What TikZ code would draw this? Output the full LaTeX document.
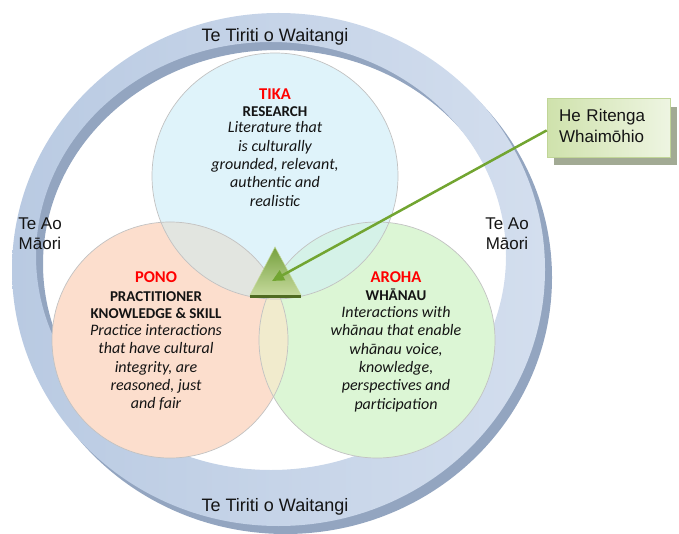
\documentclass[tikz,border=0pt]{standalone}
\usepackage{fontspec}
\setmainfont{Carlito}
\newfontfamily\arialf{Liberation Sans}
\usetikzlibrary{arrows.meta,shadows}
\definecolor{ringlightA}{HTML}{B9CAE2}
\definecolor{ringlightB}{HTML}{D3DEEE}
\definecolor{ringdark}{HTML}{93A5C0}
\definecolor{topc}{HTML}{DFF3FA}
\definecolor{leftc}{HTML}{FCDECD}
\definecolor{rightc}{HTML}{DCF6D5}
\definecolor{tlc}{HTML}{E2E5E0}
\definecolor{trc}{HTML}{D5F2E8}
\definecolor{lrc}{HTML}{F1EBCD}
\definecolor{edgec}{HTML}{C2C2C2}
\definecolor{arrowg}{HTML}{72A531}
\definecolor{triTop}{HTML}{76A13E}
\definecolor{triBot}{HTML}{C5D99C}
\definecolor{triBase}{HTML}{4F6B22}
\definecolor{boxA}{HTML}{CFE2AC}
\definecolor{boxB}{HTML}{EEF5E2}
\definecolor{boxEdge}{HTML}{C0D597}
\definecolor{shadowc}{HTML}{A2AA94}
\definecolor{txt}{HTML}{141414}
\tikzset{
  ringlabel/.style={font=\arialf\fontsize{18}{20}\selectfont, text=txt, inner sep=0pt, anchor=base},
  aolabel/.style={font=\arialf\fontsize{17}{19}\selectfont, text=txt, inner sep=0pt, anchor=base},
  keyword/.style={font=\bfseries\fontsize{16.5}{18}\selectfont, text=red, inner sep=0pt, anchor=base},
  headline/.style={font=\bfseries\fontsize{15}{18}\selectfont, text=txt, inner sep=0pt, anchor=base},
  bodyline/.style={font=\itshape\fontsize{16}{18}\selectfont, text=txt, inner sep=0pt, anchor=base},
  calloutbox/.style={rectangle, draw=boxEdge, line width=0.8pt, left color=boxA, right color=boxB,
    minimum width=123.3pt, minimum height=58.4pt, text width=99.3pt, inner xsep=12pt, inner ysep=10.1pt,
    align=left, anchor=north west, font=\arialf\fontsize{17}{21}\selectfont, text=txt,
    drop shadow={shadow xshift=7pt, shadow yshift=-8pt, fill=shadowc, opacity=1}},
  circedge/.style={draw=edgec, line width=0.7pt},
  pointer/.style={draw=arrowg, line width=2.5pt, -{Triangle[length=12pt,width=11pt]}}
}
\begin{document}
\begin{tikzpicture}[x=1pt,y=-1pt]
\useasboundingbox (0,0) rectangle (679,534);
% ring (3D effect: darker copy shifted down-right)
\fill[ringdark, even odd rule] (285.5,277.5) ellipse [x radius=266.5pt, y radius=256.5pt]
  (278,264) ellipse [x radius=235pt, y radius=214pt];
\shade[left color=ringlightA, right color=ringlightB, even odd rule] (278.5,269.5) ellipse [x radius=266.5pt, y radius=256.5pt]
  (271,256) ellipse [x radius=235pt, y radius=214pt];
% circles
\fill[topc] (275,176) circle [radius=123pt];
\fill[leftc] (170,340) circle [radius=118pt];
\fill[rightc] (377,340) circle [radius=118pt];
\begin{scope}
  \clip (275,176) circle [radius=123pt];
  \fill[tlc] (170,340) circle [radius=118pt];
  \fill[trc] (377,340) circle [radius=118pt];
\end{scope}
\begin{scope}
  \clip (170,340) circle [radius=118pt];
  \fill[lrc] (377,340) circle [radius=118pt];
\end{scope}
\draw[circedge] (275,176) circle [radius=123pt];
\draw[circedge] (170,340) circle [radius=118pt];
\draw[circedge] (377,340) circle [radius=118pt];
% triangle
\shade[top color=triTop, bottom color=triBot, draw=triBot, line width=0.5pt] (275,247) -- (301,295) -- (250,295) -- cycle;
\draw[triBase, line width=2.5pt] (250,296.3) -- (301,296.3);
% ring labels
\node[ringlabel] (tt1) at (275,42) {Te Tiriti o Waitangi};
\node[ringlabel] (tt2) at (275,511) {Te Tiriti o Waitangi};
\node[aolabel] (aoL1) at (40,230) {Te Ao};
\node[aolabel] (aoL2) at (40,249.5) {Māori};
\node[aolabel] (aoR1) at (507,230) {Te Ao};
\node[aolabel] (aoR2) at (507,249.5) {Māori};
% TIKA
\node[keyword] (tikaK) at (275,100) {TIKA};
\node[headline] (tikaH) at (275,116.5) {RESEARCH};
\node[bodyline] (tika1) at (275,133) {Literature that};
\node[bodyline] (tika2) at (275,151.3) {is culturally};
\node[bodyline] (tika3) at (275,169.6) {grounded, relevant,};
\node[bodyline] (tika4) at (275,187.9) {authentic and};
\node[bodyline] (tika5) at (275,206.2) {realistic};
% PONO
\node[keyword] (ponoK) at (156,283) {PONO};
\node[headline] (ponoH1) at (156,301.7) {PRACTITIONER};
\node[headline] (ponoH2) at (156,318.5) {KNOWLEDGE \& SKILL};
\node[bodyline] (pono1) at (156,335.5) {Practice interactions};
\node[bodyline] (pono2) at (156,353.8) {that have cultural};
\node[bodyline] (pono3) at (156,372.1) {integrity, are};
\node[bodyline] (pono4) at (156,390.4) {reasoned, just};
\node[bodyline] (pono5) at (156,408.7) {and fair};
% AROHA
\node[keyword] (arohaK) at (396,283) {AROHA};
\node[headline] (arohaH) at (396,300) {WHĀNAU};
\node[bodyline] (aroha1) at (396,317.5) {Interactions with};
\node[bodyline] (aroha2) at (396,335.8) {whānau that enable};
\node[bodyline] (aroha3) at (396,354.1) {whānau voice,};
\node[bodyline] (aroha4) at (396,372.4) {knowledge,};
\node[bodyline] (aroha5) at (396,390.7) {perspectives and};
\node[bodyline] (aroha6) at (396,409) {participation};
% callout
\node[calloutbox] (callout) at (546.7,98.3) {He Ritenga\\Whaimōhio\rule[-4.8pt]{0pt}{4.8pt}};
\coordinate (tip) at (272,281);
\draw[pointer] ([yshift=-2.5pt]callout.west) -- (tip);
\end{tikzpicture}
\end{document}
